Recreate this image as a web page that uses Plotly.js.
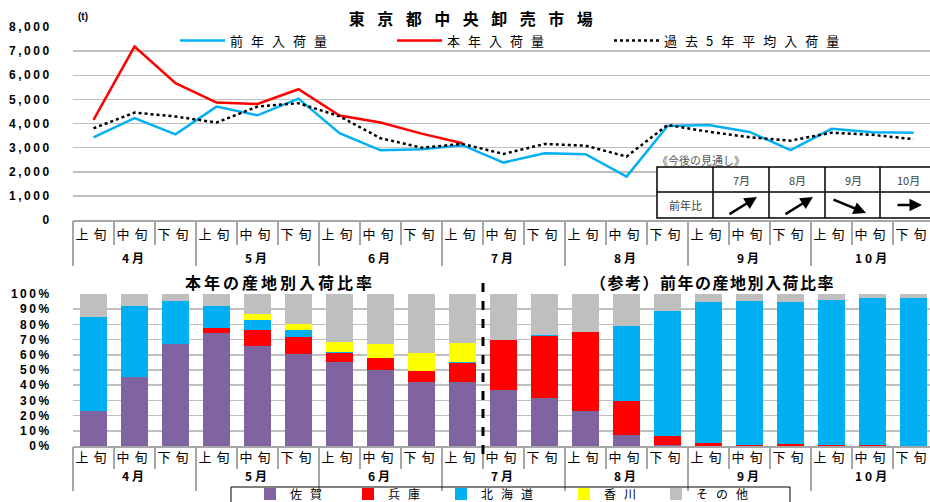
<!DOCTYPE html>
<html><head><meta charset="utf-8">
<script src="https://cdn.plot.ly/plotly-3.0.1.min.js"></script>
<style>
body{margin:0;padding:0;background:#fff}
#chart{width:930px;height:502px}
.xtick text, .x2tick text {letter-spacing:5px}
.x5tick text, .x6tick text {letter-spacing:3px}
.ytick text, .y2tick text {letter-spacing:2.5px}
</style></head><body><div id="chart"></div>
<script>
// ---- data ----
const months  = ['4月','4月','4月','5月','5月','5月','6月','6月','6月','7月','7月','7月','8月','8月','8月','9月','9月','9月','10月','10月','10月'];
const periods = ['上旬','中旬','下旬','上旬','中旬','下旬','上旬','中旬','下旬','上旬','中旬','下旬','上旬','中旬','下旬','上旬','中旬','下旬','上旬','中旬','下旬'];

const prevYear = [3420,4220,3550,4700,4340,5030,3600,2890,2930,3100,2380,2770,2730,1800,3900,3940,3650,2900,3780,3640,3620];
const thisYear = [4150,7190,5670,4870,4810,5420,4330,4040,3580,3180];
const avg5     = [3800,4450,4290,4040,4700,4840,4300,3390,3000,3150,2740,3150,3080,2630,3940,3660,3430,3290,3620,3530,3350];

const saga     = [23.1,45.7,67.3,74.1,65.9,60.7,55.4,49.9,42.2,42.0,36.7,31.4,23.1,7.0,0.7,0.3,0,0,0,0,0];
const hyogo    = [0,0,0,3.3,10.1,10.7,5.5,7.7,7.0,12.9,33.2,40.7,52.1,22.5,5.9,1.5,0.9,1.3,0.9,0.7,0.3];
const hokkaido = [61.5,46.2,27.9,14.9,7.1,5.1,1.1,0,0,0.5,0,0.9,0,49.4,82.4,92.7,94.3,93.2,94.9,96.4,97.1];
const kagawa   = [0,0,0,0,3.7,3.9,6.6,9.4,12.1,12.5,0,0,0,0,0,0,0,0,0,0,0];
const other    = [15.4,8.1,4.8,7.7,13.2,19.6,31.4,33.0,38.7,32.1,30.1,27.0,24.8,21.1,11.0,5.5,4.8,5.5,4.2,2.9,2.6];

const outlookMonths = ['7月','8月','9月','10月'];
const outlookTrend  = ['up','up','down','flat'];

// ---- derived category positions ----
const keys = months.map((m, i) => m + periods[i]);            // one category per 旬
const monthNames = months.filter((m, i) => months.indexOf(m) === i);
const monthCenters = monthNames.map(m => (months.indexOf(m) + months.lastIndexOf(m)) / 2);
const monthBounds = monthNames.map(m => months.indexOf(m) - 0.5).concat([months.length - 0.5]);

// ---- helpers ----
const W = 930, H = 502;
const px = v => v / W;
const py = v => 1 - v / H;
const ls = (t, s) => '<span style="letter-spacing:' + s + 'px">' + t + '</span>';
const FONT = '"Liberation Sans", "Noto Sans CJK JP", sans-serif';
const CJK = '"Noto Sans CJK JP", sans-serif';
const GRID = '#bfbfbf', AX = '#a6a6a6';

const traces = [
  {type:'scatter', mode:'lines', x:keys, y:prevYear, name:ls('前年入荷量',8), legendwidth:157, line:{color:'#00B0F0', width:2.5}, xaxis:'x', yaxis:'y', legend:'legend'},
  {type:'scatter', mode:'lines', x:keys.slice(0, thisYear.length), y:thisYear, name:ls('本年入荷量',8), legendwidth:157, line:{color:'#FF0000', width:2.5}, xaxis:'x', yaxis:'y', legend:'legend'},
  {type:'scatter', mode:'lines', x:keys, y:avg5, name:ls('過去5年平均入荷量',8), legendwidth:190, line:{color:'#000000', width:2.5, dash:'dot'}, xaxis:'x', yaxis:'y', legend:'legend'},
];
const barSeries = [
  ['佐賀', saga, '#8064A2'],
  ['兵庫', hyogo, '#FF0000'],
  ['北海道', hokkaido, '#00B0F0'],
  ['香川', kagawa, '#FFFF00'],
  ['その他', other, '#BFBFBF'],
];
const barLegendWidth = [53, 48, 78, 47, 70];
barSeries.forEach(([n, v, c], i) => traces.push({
  type:'bar', x:keys, y:v, name:ls(n,8), legendwidth:barLegendWidth[i], marker:{color:c}, xaxis:'x2', yaxis:'y2', legend:'legend2'
}));
// empty carriers so the month-level axes get drawn
[['x3','y'],['x5','y'],['x4','y2'],['x6','y2']].forEach(([xa, ya]) => traces.push({
  type:'scatter', mode:'lines', x:monthCenters, y:monthCenters.map(() => null), xaxis:xa, yaxis:ya, showlegend:false, hoverinfo:'skip'
}));

const dom = [px(73), 1], rng = [-0.5, 20.4];
function periodAxis(anchor, tlen, standoff) {
  return {type:'category', domain:dom, range:rng, anchor,
    tickmode:'array', tickvals:keys, ticktext:periods, tickson:'boundaries',
    ticks:'outside', ticklen:tlen, tickwidth:1.5, tickcolor:AX,
    showline:true, linecolor:AX, linewidth:1.5, showgrid:false, zeroline:false,
    tickfont:{size:13, color:'#000', family:CJK}, ticklabelstandoff:standoff, fixedrange:true};
}
function monthDividerAxis(anchor, over, tlen) {
  return {type:'linear', domain:dom, range:rng, anchor, overlaying:over,
    tickmode:'array', tickvals:monthBounds, showticklabels:false,
    ticks:'outside', ticklen:tlen, tickwidth:1.5, tickcolor:AX,
    showline:false, showgrid:false, zeroline:false, fixedrange:true};
}
function monthLabelAxis(anchor, over, pad) {
  return {type:'linear', domain:dom, range:rng, anchor, overlaying:over,
    tickmode:'array', tickvals:monthCenters, ticktext:monthNames,
    ticks:'outside', ticklen:pad, tickcolor:'rgba(0,0,0,0)',
    showline:false, showgrid:false, zeroline:false,
    tickfont:{size:12, color:'#000', family:CJK, weight:'bold'}, fixedrange:true};
}

const A = (o) => Object.assign({xref:'paper', yref:'paper', showarrow:false, xanchor:'center', yanchor:'middle'}, o);
const annotations = [
  A({text:'<b>(t)</b>', x:px(83), y:py(17), font:{size:10, color:'#000'}}),
  A({text:'《今後の見通し》', x:px(655), xanchor:'left', y:py(160), font:{size:11, color:'#595959', family:CJK}}),
  A({text:'前年比', x:px(685), y:py(205), font:{size:11, color:'#404040', family:CJK}}),
  A({text:'<b>'+ls('本年の産地別入荷比率',3)+'</b>', x:px(280), y:py(282), font:{size:16, color:'#000', family:CJK}}),
  A({text:'<b>'+ls('（参考）前年の産地別入荷比率',1.5)+'</b>', x:px(712), y:py(282), font:{size:16, color:'#000', family:CJK}}),
];
const colLeft = [713,769,825,880];
const arrowVec = {up:[[-13,215],[16,197]], down:[[-21,199],[13,213]], flat:[[-12,205],[14,205]]};
outlookMonths.forEach((m, i) => {
  const c = colLeft[i] + 28;
  annotations.push(A({text:m, x:px(c), y:py(180), font:{size:11, color:'#404040', family:CJK}}));
  const [t, h] = arrowVec[outlookTrend[i]];
  annotations.push({text:'', x:px(c + h[0]), y:py(h[1]), xref:'paper', yref:'paper',
    ax:t[0]-h[0], ay:t[1]-h[1], axref:'pixel', ayref:'pixel', showarrow:true,
    arrowhead:2, arrowsize:1, arrowwidth:2.5, arrowcolor:'#000'});
});

const shapes = [
  {type:'rect', xref:'paper', yref:'paper', x0:px(657), x1:px(945), y0:py(218), y1:py(167), fillcolor:'#fff', line:{color:'#000', width:1.5}, layer:'above'},
  {type:'line', xref:'paper', yref:'paper', x0:px(657), x1:px(945), y0:py(192), y1:py(192), line:{color:'#000', width:1.5}},
  {type:'line', xref:'paper', yref:'paper', x0:px(483), x1:px(483), y0:py(283), y1:py(455), line:{color:'#000', width:3, dash:'dash'}},
  {type:'rect', xref:'paper', yref:'paper', x0:px(231), x1:px(790), y0:py(512), y1:py(487), line:{color:'#000', width:1}, fillcolor:'rgba(0,0,0,0)'},
];
colLeft.forEach(x => shapes.push({type:'line', xref:'paper', yref:'paper', x0:px(x), x1:px(x), y0:py(218), y1:py(167), line:{color:'#000', width:1.5}}));

const layout = {
  width:W, height:H, margin:{l:0, r:0, t:0, b:0, autoexpand:false},
  paper_bgcolor:'#fff', plot_bgcolor:'#fff',
  font:{family:FONT, color:'#000'},
  title:{text:'<b>'+ls('東京都中央卸売市場',12.5)+'</b>', x:px(477), xanchor:'center', xref:'container', y:py(19.5), yanchor:'middle', yref:'container', font:{size:16, color:'#000', family:CJK}},
  showlegend:true,
  legend:{orientation:'h', x:px(175), xanchor:'left', xref:'container', y:py(40.5), yanchor:'middle', yref:'container', font:{size:13, color:'#000', family:CJK}, itemwidth:45, bgcolor:'rgba(0,0,0,0)', traceorder:'normal'},
  legend2:{orientation:'h', x:px(250), xanchor:'left', xref:'container', y:py(494), yanchor:'middle', yref:'container', font:{size:12, color:'#000', family:CJK}, bgcolor:'rgba(0,0,0,0)', traceorder:'normal'},
  barmode:'stack', bargap:0.34,
  xaxis: periodAxis('y', 23, 2),
  xaxis3: monthDividerAxis('y', 'x', 45),
  xaxis5: monthLabelAxis('y', 'x', 28),
  yaxis:{domain:[py(220), py(27)], anchor:'x', range:[0,8000], dtick:1000, tickformat:',d',
    showgrid:true, gridcolor:GRID, gridwidth:1.5, zeroline:false, showline:false,
    ticks:'outside', ticklen:18, tickcolor:'rgba(0,0,0,0)', tickfont:{size:12, color:'#000', weight:'bold'}, fixedrange:true},
  xaxis2: periodAxis('y2', 21, -1),
  xaxis4: monthDividerAxis('y2', 'x2', 44),
  xaxis6: monthLabelAxis('y2', 'x2', 20),
  yaxis2:{domain:[py(446), py(294)], anchor:'x2', range:[0,100], dtick:10, ticksuffix:'%',
    showgrid:true, gridcolor:GRID, gridwidth:1.5, zeroline:false, showline:false,
    ticks:'outside', ticklen:18, tickcolor:'rgba(0,0,0,0)', tickfont:{size:12, color:'#000', weight:'bold'}, fixedrange:true},
  annotations, shapes
};

Plotly.newPlot('chart', traces, layout, {displayModeBar:false, staticPlot:true});
</script></body></html>
